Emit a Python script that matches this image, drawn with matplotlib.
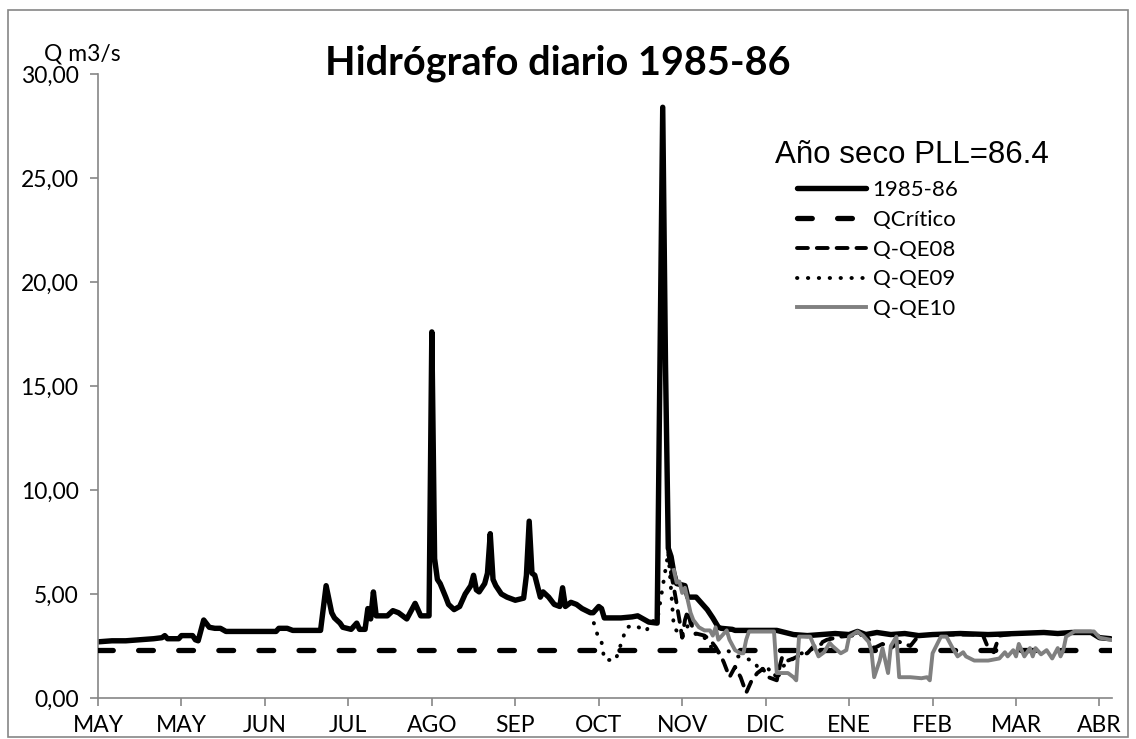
import matplotlib.pyplot as plt
from matplotlib.patches import Rectangle

# ---- data (day index 0 = 1 May 1985, daily values in m3/s) ----
q_days = [0, 5, 10, 15, 20, 23, 24, 25, 29, 30, 34, 35, 36, 38, 40, 42, 44, 46,
          64, 65, 68, 70, 80, 82, 84, 85, 87, 88, 91, 93, 94, 96, 97, 98, 99,
          100, 104, 106, 108, 111, 114, 116, 119, 120, 121, 122, 123, 125, 126,
          128, 130, 132, 134, 135, 136, 137, 139, 140, 141, 142, 143, 145, 147,
          150, 153, 154, 155, 156, 157, 159, 160, 162, 164, 166, 167, 168, 170,
          172, 174, 177, 178, 180, 181, 182, 188, 192, 194, 196, 198, 201, 202,
          203, 204, 205, 206, 207, 208, 211, 212, 215, 217, 219, 221, 223, 224,
          228, 229, 244, 247, 250, 255, 260, 265, 270, 273, 276, 280, 285, 290,
          295, 300, 310, 320, 330, 340, 345, 350, 357, 360, 364]
q_vals = [2.7, 2.75, 2.75, 2.8, 2.85, 2.9, 3.0, 2.85, 2.85, 3.0, 3.0, 2.8, 2.75,
          3.75, 3.4, 3.35, 3.35, 3.2, 3.2, 3.35, 3.35, 3.25, 3.25, 5.4, 4.1, 3.85,
          3.6, 3.4, 3.3, 3.6, 3.3, 3.3, 4.3, 3.8, 5.1, 3.95, 3.95, 4.2, 4.1, 3.8,
          4.55, 3.95, 3.95, 17.6, 6.7, 5.7, 5.5, 4.85, 4.5, 4.25, 4.4, 5.0, 5.4,
          5.9, 5.2, 5.1, 5.5, 6.0, 7.9, 5.7, 5.4, 5.0, 4.85, 4.7, 4.8, 5.9, 8.5,
          6.0, 5.9, 4.85, 5.1, 4.85, 4.5, 4.4, 5.3, 4.4, 4.6, 4.5, 4.3, 4.1, 4.1,
          4.4, 4.3, 3.85, 3.85, 3.9, 3.95, 3.8, 3.65, 3.6, 16.0, 28.4, 16.0, 7.2,
          6.8, 6.0, 5.5, 5.4, 4.85, 4.85, 4.55, 4.25, 3.85, 3.4, 3.35, 3.3, 3.25,
          3.25, 3.15, 3.05, 3.0, 3.05, 3.1, 3.05, 3.2, 3.05, 3.15, 3.05, 3.1,
          3.0, 3.05, 3.1, 3.05, 3.1, 3.15, 3.1, 3.15, 3.15, 2.9, 2.85]

qcrit_days = [0, 364]
qcrit_vals = [2.3, 2.3]

qe08_days = [205, 206, 207, 208, 209, 210, 211, 212, 213, 215, 218, 220, 222,
             224, 225, 227, 229, 231, 233, 235, 237, 239, 241, 244, 245, 246,
             248, 250, 253, 255, 257, 262, 267, 271, 276, 279, 282, 285, 288,
             292, 295, 300, 318, 320, 322, 324, 330]
qe08_vals = [7.0, 6.0, 5.3, 4.55, 3.75, 2.9, 3.75, 4.2, 3.6, 3.1, 3.0, 2.8, 2.45,
             2.0, 1.7, 1.0, 1.5, 1.0, 0.25, 0.85, 1.2, 1.4, 1.0, 0.85, 1.5, 2.0,
             1.8, 1.9, 2.1, 2.15, 2.45, 2.8, 2.95, 3.0, 3.05, 2.4, 2.6, 2.4, 2.7,
             2.5, 3.0, 3.05, 3.05, 2.4, 2.2, 3.0, 3.1]

qe09_days = [177, 179, 180, 181, 182, 186, 187, 188, 190, 193, 195, 197, 199,
             201, 205, 207, 210, 213, 215, 218, 222, 226, 230, 233, 236, 238,
             240, 242, 243, 244, 246, 249, 252, 256, 260, 265]
qe09_vals = [4.1, 3.3, 2.8, 2.7, 1.85, 1.8, 2.2, 2.6, 3.4, 3.5, 3.35, 3.2, 3.7,
             3.7, 7.0, 3.4, 2.9, 3.75, 3.0, 2.9, 2.15, 2.3, 2.0, 1.9, 1.75, 1.25,
             1.6, 1.2, 1.25, 0.85, 1.5, 1.8, 2.1, 2.3, 2.6, 3.0]

qe10_days = [207, 208, 209, 210, 211, 213, 214, 216, 218, 220, 221, 222, 223,
             224, 226, 227, 229, 231, 232, 233, 234, 243, 244, 248, 250, 251,
             252, 256, 259, 261, 263, 264, 267, 269, 270, 273, 275, 277, 278,
             279, 281, 282, 284, 285, 287, 288, 292, 296, 298, 299, 300, 303,
             305, 307, 309, 311, 312, 315, 320, 324, 326, 327, 329, 330, 331,
             333, 335, 336, 337, 339, 341, 343, 345, 346, 347, 348, 351, 358,
             360, 364]
qe10_vals = [6.15, 5.55, 5.6, 5.05, 5.3, 4.1, 3.75, 3.4, 3.25, 3.25, 3.0, 3.4,
             2.8, 2.95, 3.25, 2.8, 2.3, 2.15, 2.15, 2.8, 3.2, 3.2, 1.2, 1.2, 1.0,
             0.85, 2.95, 2.95, 2.0, 2.2, 2.65, 2.5, 2.15, 2.3, 2.95, 3.2, 3.0,
             2.7, 2.3, 1.0, 1.8, 2.4, 1.2, 2.5, 2.95, 1.0, 1.0, 0.95, 1.0, 0.85,
             2.15, 2.95, 2.95, 2.45, 2.0, 2.2, 2.0, 1.8, 1.8, 1.9, 2.2, 2.0, 2.3,
             2.0, 2.6, 2.0, 2.4, 2.0, 2.4, 2.1, 2.3, 1.9, 2.4, 2.0, 2.3, 2.95,
             3.2, 3.2, 2.9, 2.8]

month_ticks = [0, 30, 60, 90, 120, 150, 180, 210, 240, 270, 300, 330, 360]
month_labels = ['MAY', 'MAY', 'JUN', 'JUL', 'AGO', 'SEP', 'OCT', 'NOV', 'DIC',
                'ENE', 'FEB', 'MAR', 'ABR']
y_ticks = [0, 5, 10, 15, 20, 25, 30]
y_labels = ['0,00', '5,00', '10,00', '15,00', '20,00', '25,00', '30,00']

W, H = 1136, 739
fig = plt.figure(figsize=(W / 100, H / 100), dpi=100)
ax = fig.add_axes([98 / W, 1 - 698 / H, (1112 - 98) / W, (698 - 74) / H])

ax.plot(q_days, q_vals, color='black', lw=3.9, solid_joinstyle='round',
        solid_capstyle='round', label='1985-86', zorder=2)
ax.plot(qcrit_days, qcrit_vals, color='black', lw=3.8, dashes=(2.8, 4.8),
        dash_capstyle='round', label='QCrítico', zorder=3)
ax.plot(qe08_days, qe08_vals, color='black', lw=2.8, dashes=(2.8, 2.3),
        dash_capstyle='round', dash_joinstyle='round', label='Q-QE08', zorder=4)
ax.plot(qe09_days, qe09_vals, color='black', lw=2.8, dashes=(0.1, 2.7),
        dash_capstyle='round', label='Q-QE09', zorder=5)
ax.plot(qe10_days, qe10_vals, color='#808080', lw=2.8, solid_joinstyle='round',
        label='Q-QE10', zorder=6)

ax.set_xlim(0, 364.5)
ax.set_ylim(0, 30)
ax.set_xticks(month_ticks)
ax.set_xticklabels(month_labels)
ax.set_yticks(y_ticks)
ax.set_yticklabels(y_labels)
for s in ['top', 'right']:
    ax.spines[s].set_visible(False)
for s in ['left', 'bottom']:
    ax.spines[s].set_color('#868686')
    ax.spines[s].set_linewidth(1.2)
ax.tick_params(axis='both', direction='out', length=6, width=1.2,
               color='#868686', labelsize=16.5)
ax.tick_params(axis='x', pad=6)
ax.tick_params(axis='y', pad=8)
for lab in ax.get_xticklabels() + ax.get_yticklabels():
    lab.set_fontfamily('Lato')

fig.text(82 / W, 1 - 60 / H, 'Q m3/s', ha='center', va='baseline',
         fontsize=16.5, family='Lato')
fig.text(558 / W, 1 - 75 / H, 'Hidrógrafo diario 1985-86', ha='center',
         va='baseline', fontsize=28.5, fontweight='bold', family='Lato')
fig.text(775 / W, 1 - 163 / H, 'Año seco PLL=86.4', ha='left', va='baseline',
         fontsize=22.5, family='Liberation Sans')

leg = ax.legend(loc='upper left', bbox_to_anchor=(797 / W, 1 - 180 / H),
                bbox_transform=fig.transFigure, frameon=False, borderpad=0,
                borderaxespad=0, handlelength=3.1, handletextpad=0.3,
                labelspacing=0.44, prop={'family': 'Lato', 'size': 16})

fig.patches.append(Rectangle((8 / W, 2 / H), 1 - 16 / W, 1 - 12 / H,
                             transform=fig.transFigure, fill=False,
                             edgecolor='#868686', lw=1.2))

fig.savefig('out.png', dpi=100)
